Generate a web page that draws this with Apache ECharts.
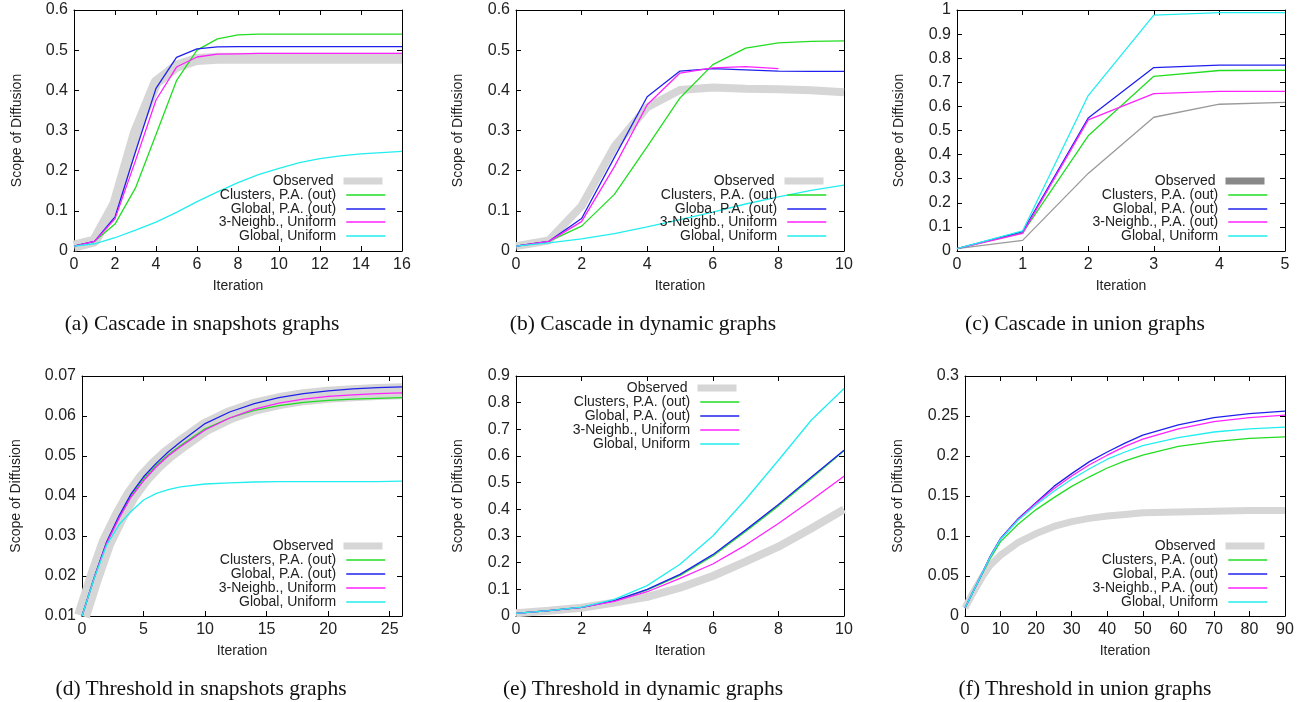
<!DOCTYPE html>
<html>
<head>
<meta charset="utf-8">
<script src="https://cdn.jsdelivr.net/npm/echarts@6/dist/echarts.min.js"></script>
<style>
  html, body { margin: 0; padding: 0; background: #fff; }
  #chart { position: absolute; left: 0; top: 0; width: 1306px; height: 702px; }
  .cap { position: absolute; width: 400px; text-align: center; font-family: 'Liberation Serif', serif;
         font-size: 21.5px; line-height: 24px; color: #111; white-space: nowrap; }
</style>
</head>
<body>
<div id="chart"></div>
<div class="cap" style="left:2px;top:311px">(a) Cascade in snapshots graphs</div>
<div class="cap" style="left:443px;top:311px">(b) Cascade in dynamic graphs</div>
<div class="cap" style="left:885px;top:311px">(c) Cascade in union graphs</div>
<div class="cap" style="left:1px;top:676px">(d) Threshold in snapshots graphs</div>
<div class="cap" style="left:443px;top:676px">(e) Threshold in dynamic graphs</div>
<div class="cap" style="left:885px;top:676px">(f) Threshold in union graphs</div>
<script>
// (a) cascade, snapshots
var iterA = [0, 1, 2, 3, 4, 5, 6, 7, 8, 9, 10, 11, 12, 13, 14, 15, 16];
var obsA = [0.012, 0.025, 0.118, 0.295, 0.42, 0.46, 0.477, 0.48, 0.48, 0.48, 0.48, 0.48, 0.48, 0.48, 0.48, 0.48, 0.48];
var clusA = [0.012, 0.024, 0.067, 0.157, 0.29, 0.424, 0.5, 0.528, 0.538, 0.54, 0.54, 0.54, 0.54, 0.54, 0.54, 0.54, 0.54];
var globPaA = [0.012, 0.024, 0.085, 0.247, 0.405, 0.482, 0.503, 0.508, 0.509, 0.509, 0.509, 0.509, 0.509, 0.509, 0.509, 0.509, 0.509];
var neighA = [0.012, 0.024, 0.08, 0.225, 0.376, 0.458, 0.483, 0.49, 0.491, 0.492, 0.492, 0.492, 0.492, 0.492, 0.492, 0.492, 0.492];
var globUA = [0.012, 0.018, 0.033, 0.052, 0.072, 0.096, 0.123, 0.147, 0.17, 0.19, 0.206, 0.22, 0.23, 0.237, 0.242, 0.245, 0.248];

// (b) cascade, dynamic
var iterB = [0, 1, 2, 3, 4, 5, 6, 7, 8, 9, 10];
var obsB = [0.012, 0.026, 0.112, 0.26, 0.358, 0.401, 0.407, 0.404, 0.403, 0.4, 0.395];
var clusB = [0.012, 0.024, 0.062, 0.141, 0.26, 0.381, 0.464, 0.505, 0.518, 0.522, 0.523];
var globPaB = [0.012, 0.024, 0.081, 0.233, 0.384, 0.448, 0.454, 0.451, 0.448, 0.447, 0.447];
var neighB = [0.012, 0.024, 0.073, 0.21, 0.364, 0.443, 0.456, 0.459, 0.454];
var globUB = [0.012, 0.02, 0.03, 0.043, 0.06, 0.078, 0.097, 0.117, 0.135, 0.151, 0.164];

// (c) cascade, union
var iterC = [0, 1, 2, 3, 4, 5];
var obsC = [0.01, 0.044, 0.322, 0.555, 0.609, 0.617];
var clusC = [0.01, 0.075, 0.478, 0.725, 0.749, 0.75];
var globPaC = [0.01, 0.08, 0.552, 0.761, 0.771, 0.771];
var neighC = [0.01, 0.073, 0.544, 0.653, 0.662, 0.662];
var globUC = [0.01, 0.083, 0.645, 0.979, 0.989, 0.989];

// (d) threshold, snapshots
var iterD = [0, 1, 2, 3, 4, 5, 6, 7, 8, 10, 12, 14, 16, 18, 20, 22, 24, 26];
var obsD = [0.01, 0.0196, 0.0284, 0.0347, 0.0402, 0.0444, 0.0477, 0.0505, 0.0528, 0.0572, 0.0602, 0.0623, 0.0637, 0.0647, 0.0653, 0.0657, 0.066, 0.0662];
var clusD = [0.01, 0.0197, 0.0284, 0.0347, 0.0402, 0.0443, 0.0476, 0.0503, 0.0526, 0.0568, 0.0595, 0.0614, 0.0626, 0.0634, 0.0639, 0.0642, 0.0644, 0.0646];
var globPaD = [0.01, 0.0197, 0.0285, 0.035, 0.0406, 0.0448, 0.0481, 0.051, 0.0535, 0.0581, 0.061, 0.0631, 0.0646, 0.0656, 0.0663, 0.0668, 0.0671, 0.0673];
var neighD = [0.01, 0.0196, 0.0282, 0.0344, 0.0398, 0.0438, 0.0472, 0.05, 0.0523, 0.0565, 0.0595, 0.0617, 0.0632, 0.0642, 0.0649, 0.0653, 0.0656, 0.0658];
var globUD = [0.01, 0.0195, 0.0277, 0.0328, 0.0362, 0.039, 0.0406, 0.0416, 0.0423, 0.043, 0.0433, 0.0435, 0.0436, 0.0436, 0.0436, 0.0436, 0.0436, 0.0437];

// (e) threshold, dynamic
var iterE = [0, 1, 2, 3, 4, 5, 6, 7, 8, 9, 10];
var obsE = [0.01, 0.02, 0.031, 0.05, 0.072, 0.106, 0.15, 0.204, 0.26, 0.328, 0.4];
var clusE = [0.01, 0.02, 0.032, 0.057, 0.098, 0.152, 0.225, 0.317, 0.413, 0.516, 0.62];
var globPaE = [0.01, 0.02, 0.032, 0.058, 0.1, 0.156, 0.23, 0.322, 0.418, 0.52, 0.622];
var neighE = [0.01, 0.02, 0.032, 0.055, 0.091, 0.141, 0.195, 0.266, 0.347, 0.434, 0.524];
var globUE = [0.01, 0.02, 0.033, 0.062, 0.114, 0.194, 0.3, 0.437, 0.584, 0.734, 0.853];

// (f) threshold, union
var iterF = [0, 2, 5, 7, 10, 15, 20, 25, 30, 35, 40, 45, 50, 60, 70, 80, 90];
var obsF = [0.01, 0.027, 0.05, 0.063, 0.076, 0.092, 0.103, 0.112, 0.118, 0.122, 0.125, 0.127, 0.129, 0.13, 0.131, 0.132, 0.132];
var clusF = [0.01, 0.028, 0.054, 0.071, 0.093, 0.115, 0.133, 0.148, 0.162, 0.174, 0.185, 0.194, 0.201, 0.212, 0.218, 0.222, 0.224];
var globPaF = [0.01, 0.028, 0.055, 0.074, 0.097, 0.122, 0.142, 0.162, 0.178, 0.193, 0.205, 0.216, 0.226, 0.239, 0.248, 0.253, 0.256];
var neighF = [0.01, 0.028, 0.055, 0.073, 0.096, 0.121, 0.141, 0.159, 0.175, 0.189, 0.201, 0.212, 0.221, 0.234, 0.243, 0.248, 0.251];
var globUF = [0.01, 0.028, 0.055, 0.073, 0.096, 0.12, 0.139, 0.156, 0.171, 0.184, 0.196, 0.205, 0.213, 0.223, 0.23, 0.234, 0.236];

var namesA = ['Observed', 'Clusters, P.A. (out)', 'Global, P.A. (out)', '3-Neighb., Uniform', 'Global, Uniform'];
var namesB = ['Observed', 'Clusters, P.A. (out)', 'Globa, P.A. (out)', '3-Neighb., Uniform', 'Global, Uniform'];
var namesC = ['Observed', 'Clusters, P.A. (out)', 'Global, P.A. (out)', '3-Neighb., P.A. (out)', 'Global, Uniform'];

var lineColors = ['#d6d6d6', '#22dd22', '#2020ee', '#ff22ff', '#22eeee'];
var font = "'Liberation Sans', Arial, sans-serif";

var panels = [
    { id: 'a', left: 74, top: 10, width: 328, height: 241, xMax: 16, xInt: 2, yMin: 0, yMax: 0.6, yInt: 0.1, yGap: 50,
      legRight: 386, legRows: [182, 196, 210, 223, 237], obsWidth: 11, names: namesA,
      xs: iterA, ys: [obsA, clusA, globPaA, neighA, globUA] },
    { id: 'b', left: 516, top: 10, width: 328, height: 241, xMax: 10, xInt: 2, yMin: 0, yMax: 0.6, yInt: 0.1, yGap: 51,
      legRight: 827, legRows: [182, 196, 210, 223, 237], obsWidth: 8, names: namesB,
      xs: iterB, ys: [obsB, clusB, globPaB, neighB, globUB] },
    { id: 'c', left: 957, top: 10, width: 328, height: 241, xMax: 5, xInt: 1, yMin: 0, yMax: 1, yInt: 0.1, yGap: 51,
      legRight: 1268, legRows: [182, 196, 210, 223, 237], obsWidth: 1.3, obsColor: '#9a9a9a', obsLegend: '#888888',
      names: namesC, xs: iterC, ys: [obsC, clusC, globPaC, neighC, globUC] },
    { id: 'd', left: 82, top: 376, width: 320, height: 240, xMax: 26, xInt: 5, yMin: 0.01, yMax: 0.07, yInt: 0.01, yGap: 59,
      legRight: 386, legRows: [547, 561, 575, 589, 603], obsWidth: 16, hideMax: true, names: namesA,
      xs: iterD, ys: [obsD, clusD, globPaD, neighD, globUD] },
    { id: 'e', left: 516, top: 376, width: 328, height: 240, xMax: 10, xInt: 2, yMin: 0, yMax: 0.9, yInt: 0.1, yGap: 51,
      legRight: 740, legRows: [389, 403, 417, 431, 445], obsWidth: 8, names: namesA,
      xs: iterE, ys: [obsE, clusE, globPaE, neighE, globUE] },
    { id: 'f', left: 965, top: 376, width: 320, height: 240, xMax: 90, xInt: 10, yMin: 0, yMax: 0.3, yInt: 0.05, yGap: 60,
      legRight: 1268, legRows: [547, 561, 575, 589, 603], obsWidth: 7, names: namesC,
      xs: iterF, ys: [obsF, clusF, globPaF, neighF, globUF] }
];

function pairs(xs, ys) {
    return ys.map(function (y, i) { return [xs[i], y]; });
}

var chart = echarts.init(document.getElementById('chart'));

var option = {
    backgroundColor: '#fff',
    animation: false,
    grid: [],
    xAxis: [],
    yAxis: [],
    legend: [],
    series: []
};

var axisLine = { show: true, onZero: false, lineStyle: { color: '#000', width: 1 } };
var axisTick = { show: true, inside: true, length: 5, lineStyle: { color: '#000' } };

panels.forEach(function (p, k) {
    option.grid.push({ left: p.left, top: p.top, width: p.width, height: p.height, containLabel: false });

    option.xAxis.push({
        type: 'value', gridIndex: k, position: 'bottom', min: 0, max: p.xMax, interval: p.xInt,
        name: 'Iteration', nameLocation: 'middle', nameGap: 28,
        nameTextStyle: { fontFamily: font, fontSize: 14, color: '#222' },
        axisLine: axisLine, axisTick: axisTick, splitLine: { show: false },
        axisLabel: { fontFamily: font, fontSize: 16, color: '#222', margin: 6, showMaxLabel: !p.hideMax }
    });
    option.xAxis.push({
        type: 'value', gridIndex: k, position: 'top', min: 0, max: p.xMax, interval: p.xInt,
        axisLine: axisLine, axisTick: axisTick, splitLine: { show: false }, axisLabel: { show: false }
    });
    option.yAxis.push({
        type: 'value', gridIndex: k, position: 'left', min: p.yMin, max: p.yMax, interval: p.yInt,
        name: 'Scope of Diffusion', nameLocation: 'middle', nameGap: p.yGap,
        nameTextStyle: { fontFamily: font, fontSize: 14, color: '#222' },
        axisLine: axisLine, axisTick: axisTick, splitLine: { show: false },
        axisLabel: { fontFamily: font, fontSize: 16, color: '#222', margin: 6 }
    });
    option.yAxis.push({
        type: 'value', gridIndex: k, position: 'right', min: p.yMin, max: p.yMax, interval: p.yInt,
        axisLine: axisLine, axisTick: axisTick, splitLine: { show: false }, axisLabel: { show: false }
    });

    for (var i = 0; i < 5; i++) {
        var sname = p.id + '|' + p.names[i];
        var isObs = i === 0;
        var color = isObs && p.obsColor ? p.obsColor : lineColors[i];
        option.series.push({
            name: sname,
            type: 'line',
            xAxisIndex: 2 * k,
            yAxisIndex: 2 * k,
            data: pairs(p.xs, p.ys[i]),
            symbol: 'none',
            z: isObs ? 1 : 2,
            lineStyle: { color: color, width: isObs ? p.obsWidth : 1.3 },
            itemStyle: { color: color },
            emphasis: { disabled: true }
        });
        option.legend.push({
            data: [sname],
            orient: 'vertical',
            align: 'right',
            right: 1306 - p.legRight,
            top: p.legRows[i] - 8,
            padding: 0,
            itemWidth: 39,
            itemHeight: 7,
            selectedMode: false,
            itemStyle: { opacity: 0 },
            lineStyle: isObs ? { width: 7, color: p.obsLegend || lineColors[0] } : { width: 1.5 },
            formatter: function (name) { return name.split('|')[1]; },
            textStyle: { fontFamily: font, fontSize: 14, color: '#222', padding: [0, 5, 0, 0] }
        });
    }
});

chart.setOption(option);
window.addEventListener('resize', function () {
    chart.resize();
});
</script>
</body>
</html>
